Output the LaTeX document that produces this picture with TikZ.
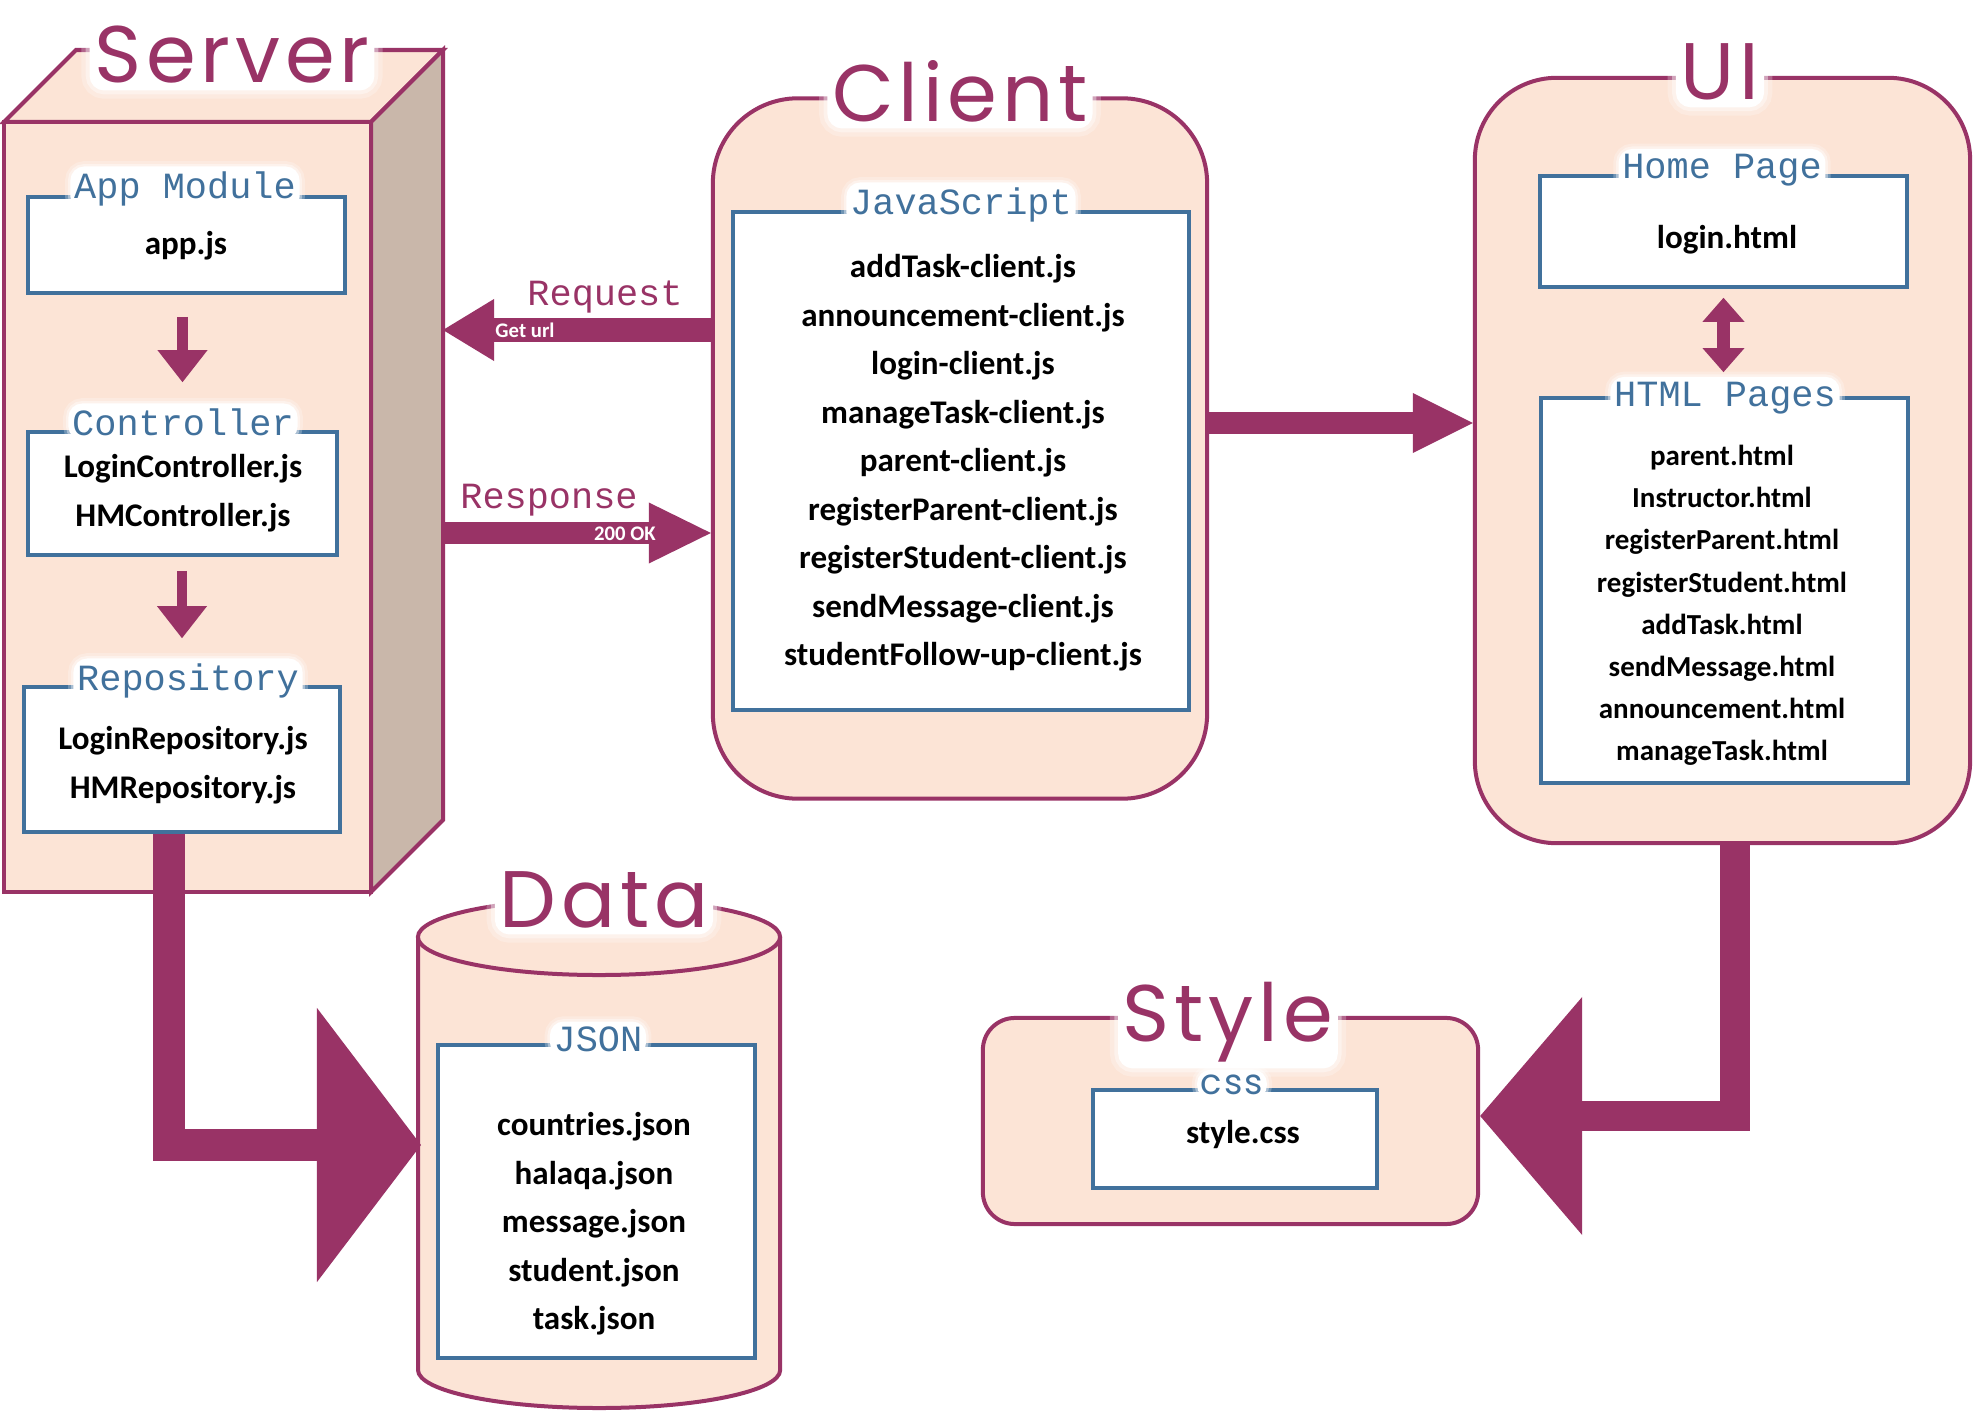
\documentclass[tikz,border=0pt]{standalone}
\usepackage{fontspec}
\setmainfont{Carlito}
\newfontfamily\titlefont{Poppins}[LetterSpace=6]
\newfontfamily\codefont{Liberation Mono}
\usetikzlibrary{arrows.meta,positioning}
\definecolor{plum}{RGB}{153,51,102}
\definecolor{peach}{RGB}{252,228,214}
\definecolor{steel}{RGB}{65,113,156}
\definecolor{sideface}{RGB}{201,183,170}

\begin{document}
\begin{tikzpicture}[x=0.01cm,y=-0.01cm,line cap=butt,line join=miter,
		layer/.style={draw=plum,fill=peach,line width=0.04cm},
		file box/.style={draw=steel,fill=white,line width=0.035cm,inner sep=0pt},
		files/.style={font=\bfseries\fontsize{9.4}{13.8}\selectfont,align=center,inner sep=0pt},
		glow/.style={rounded corners=0.12cm,
			preaction={draw=white,opacity=0.25,line width=#1},
			preaction={draw=white,opacity=0.4,line width=0.6*#1},
			preaction={draw=white,fill=white,line width=0.25*#1}},
		title/.style={glow=0.22cm,font=\titlefont\fontsize{22.8}{24}\selectfont,text=plum,anchor=base,inner xsep=0.02cm,inner ysep=0.04cm},
		box label/.style={glow=0.14cm,font=\codefont\fontsize{10.5}{12}\selectfont,text=steel,anchor=base,inner xsep=0.02cm,inner ysep=0.03cm},
		flow label/.style={font=\codefont\fontsize{10.5}{12}\selectfont,text=plum,anchor=base},
		tag/.style={font=\bfseries\fontsize{5.9}{7}\selectfont,text=white,inner sep=0pt},
		fat arrow/.style={color=plum,line width=#1}]
	
	\useasboundingbox (0,0) rectangle (1974,1415);
	
	% server block
	\draw[layer] (4,122) -- (76,50) -- (443,50) -- (371,122) -- cycle;
	\draw[layer,fill=sideface] (371,122) -- (443,50) -- (443,820) -- (371,892) -- cycle;
	\draw[layer] (4,122) rectangle (371,892);
	\coordinate (srvreq) at (443,330);
	\coordinate (srvres) at (443,533);
	
	% data store
	\draw[layer] (418,937) -- (418,1370) arc[start angle=180,end angle=360,x radius=1.81cm,y radius=0.38cm] -- (780,937);
	\draw[layer] (599,937) ellipse [x radius=1.81cm,y radius=0.38cm];
	\coordinate (datain) at (421,1145);
	
	\node[layer,rounded corners=0.85cm,minimum width=4.94cm,minimum height=7cm] (client) at (960,448.5) {};
	\node[layer,rounded corners=0.82cm,minimum width=4.95cm,minimum height=7.65cm] (ui) at (1722.5,460.5) {};
	\node[layer,rounded corners=0.32cm,minimum width=4.95cm,minimum height=2.06cm] (style) at (1230.5,1121) {};
	
	\node[file box,minimum width=3.17cm,minimum height=0.96cm] (app) at (186.5,245) {};
	\node[file box,minimum width=3.09cm,minimum height=1.23cm] (ctrl) at (182.5,493.5) {};
	\node[file box,minimum width=3.16cm,minimum height=1.45cm] (repo) at (182,759.5) {};
	\node[file box,minimum width=4.56cm,minimum height=4.98cm] (js) at (961,461) {};
	\node[file box,minimum width=3.67cm,minimum height=1.11cm] (home) at (1723.5,231.5) {};
	\node[file box,minimum width=3.67cm,minimum height=3.85cm] (html) at (1724.5,590.5) {};
	\node[file box,minimum width=3.17cm,minimum height=3.13cm] (json) at (596.5,1201.5) {};
	\node[file box,minimum width=2.84cm,minimum height=0.98cm] (css) at (1235,1139) {};
	
	\node[files] (appjs) at (186,246) {app.js};
	\node[files] (ctrljs) at (183,493) {LoginController.js\\HMController.js};
	\node[files] (repojs) at (183,765) {LoginRepository.js\\HMRepository.js};
	\node[files] (jsfiles) at (963,463) {addTask-client.js\\announcement-client.js\\login-client.js\\manageTask-client.js\\parent-client.js\\registerParent-client.js\\registerStudent-client.js\\sendMessage-client.js\\studentFollow-up-client.js};
	\node[files] (loginhtml) at (1727,240) {login.html};
	\node[files,font=\bfseries\fontsize{8.25}{12}\selectfont] (htmlfiles) at (1722,605.5) {parent.html\\Instructor.html\\registerParent.html\\registerStudent.html\\addTask.html\\sendMessage.html\\announcement.html\\manageTask.html};
	\node[files] (jsonfiles) at (594,1224) {countries.json\\halaqa.json\\message.json\\student.json\\task.json};
	\node[files] (stylecss) at (1243,1134) {style.css};
	
	\node[title] (servert) at (232,83) {Server};
	\node[title] (clientt) at (960,121) {Client};
	\node[title] (uit) at (1720,100) {UI};
	\node[title] (datat) at (604,927) {Data};
	\node[title] (stylet) at (1228,1041) {Style};
	
	\node[box label] (appl) at (185,198) {App Module};
	\node[box label] (ctrll) at (183,435) {Controller};
	\node[box label] (repol) at (188,690) {Repository};
	\node[box label] (jsl) at (961,214) {JavaScript};
	\node[box label] (homel) at (1722,178) {Home Page};
	\node[box label] (htmll) at (1725,406) {HTML Pages};
	\node[box label] (jsonl) at (598,1051) {JSON};
	\node[box label,font=\titlefont\fontsize{10}{11}\selectfont] (cssl) at (1232,1094) {css};
	
	\draw[fat arrow=0.1cm,-{Triangle[length=0.32cm,width=0.5cm,line width=0pt]},shorten <=0.22cm,shorten >=0.48cm]
	(app.south -| ctrl.north) -- (ctrl.north);
	\draw[fat arrow=0.1cm,-{Triangle[length=0.32cm,width=0.5cm,line width=0pt]},shorten <=0.14cm,shorten >=0.47cm]
	(ctrl.south -| repo.north) -- (repo.north);
	\draw[fat arrow=0.13cm,{Triangle[length=0.24cm,width=0.42cm,line width=0pt]}-{Triangle[length=0.24cm,width=0.42cm,line width=0pt]},shorten <=0.09cm,shorten >=0.24cm]
	(home.south) -- (home.south |- html.north);
	
	\draw[fat arrow=0.23cm,-{Triangle[length=0.51cm,width=0.62cm,line width=0pt]}] (client.west |- srvreq) -- (srvreq);
	\draw[fat arrow=0.21cm,-{Triangle[length=0.62cm,width=0.61cm,line width=0pt]}] (srvres) -- (client.west |- srvres);
	\node[flow label] (req) at (605,305) {Request};
	\node[flow label] (res) at (549,508) {Response};
	\node[tag] (geturl) at (525,330) {Get url};
	\node[tag] (okay) at (625,534) {200 OK};
	
	\draw[fat arrow=0.22cm,-{Triangle[length=0.6cm,width=0.6cm,line width=0pt]}] (client.east |- 0,423) -- (ui.west |- 0,423);
	\draw[fat arrow=0.29cm,-{Triangle[length=1.02cm,width=2.38cm,line width=0pt]}] (ui.south -| 1735,0) -- (1735,1116) -- (style.east |- 0,1116);
	\draw[fat arrow=0.31cm,-{Triangle[length=1.04cm,width=2.74cm,line width=0pt]}] (repo.south -| 169,0) -- (169,1145) -- (datain);
\end{tikzpicture}
\end{document}
